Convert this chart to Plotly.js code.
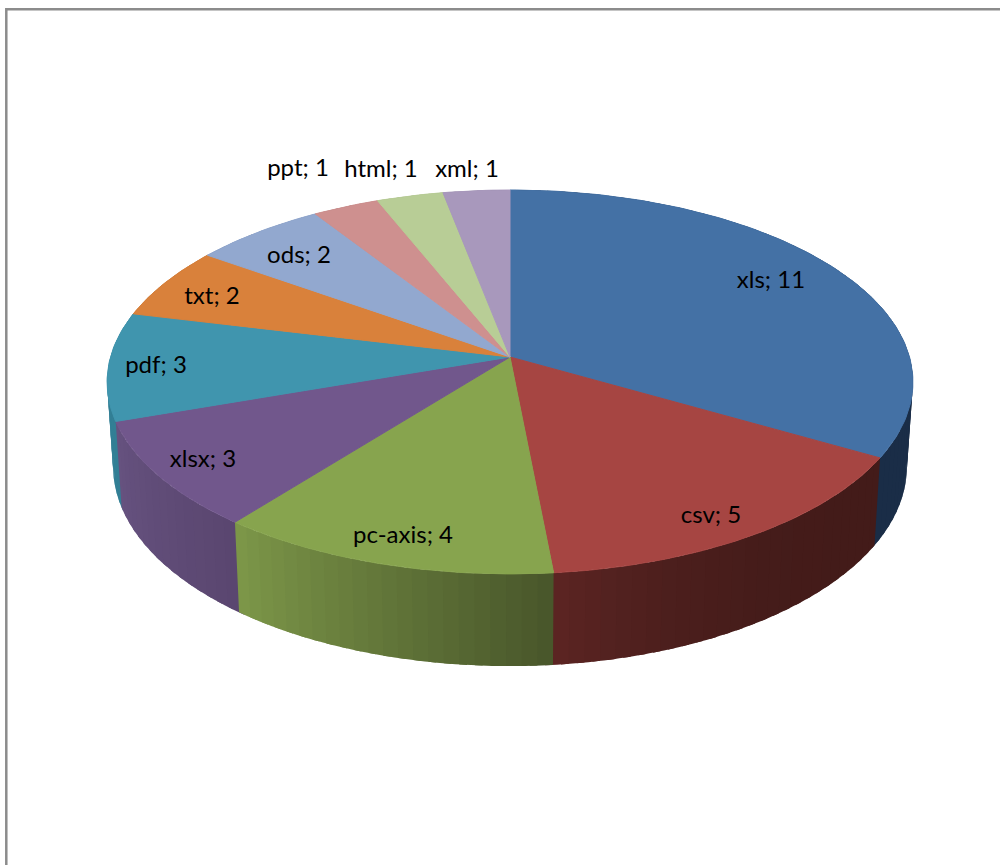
<!DOCTYPE html>
<html>
<head>
<meta charset="utf-8">
<script src="https://cdn.plot.ly/plotly-3.0.1.min.js"></script>
<style>html,body{margin:0;padding:0;background:#fff;overflow:hidden}#chart{width:1000px;height:865px}</style>
</head>
<body>
<div id="chart"></div>
<script>
// Data
const categories = ['xls','csv','pc-axis','xlsx','pdf','txt','ods','ppt','html','xml'];
const fileCounts = [11,5,4,3,3,2,2,1,1,1];

// Styles
const topColors = ['#4471a5','#a64542','#87a44e','#71578c','#4095ae','#d9813b','#92a8cf','#ce908f','#b8cd96','#a898bc'];
const sideStart = ['#1a2d47','#431b19','#48552a','#5a4670','#327f95','#a5622c','#6f80a0','#9c6d6c','#8b9b71','#7f738f'];
const sideEnd   = ['#1a2d47','#5c2523','#7d9849','#66527f','#327f95','#a5622c','#6f80a0','#9c6d6c','#8b9b71','#7f738f'];
const sideGamma = [1,3,1,1,1,1,1,1,1,1];
const labelX = [771,711,403,203,156,212,299,298,381,467];
const labelY = [282,517,537,461,367,298,257,170,171,171];

// Projection of the tilted disc
const apexX = 510, apexY = 357, scaleX = 399.5, scaleY = 188.7, persp = 0.13;
const bottomScaleX = 0.985, bottomScaleY = 1.04, depth = 83.5;
function rim(deg, bottom) {
  const t = deg * Math.PI / 180, u = Math.sin(t), v = Math.cos(t), w = 1 + persp * v;
  const sx = bottom ? bottomScaleX : 1, sy = bottom ? bottomScaleY : 1, d = bottom ? depth : 0;
  return [apexX + sx * scaleX * u / w, apexY + sy * scaleY * -v / w + d];
}
const hex = c => [1,3,5].map(i => parseInt(c.substr(i,2),16));
function mix(a,b,t){const A=hex(a),B=hex(b);return 'rgb('+A.map((x,i)=>Math.round(x+(B[i]-x)*t)).join(',')+')';}

const total = fileCounts.reduce((a,b)=>a+b,0);
const edges = [0];
fileCounts.forEach(n => edges.push(edges[edges.length-1] + n/total*360));

// Side wall stripes, painted back to front; each runs on under the next one so no seam shows
const stripes = [];
const step = 2, overlap = 1;
fileCounts.forEach((n,i) => {
  const a = edges[i], b = edges[i+1];
  const count = Math.max(1, Math.round((b-a)/step));
  for (let k=0;k<count;k++) {
    let d0 = a+(b-a)*k/count, d1 = a+(b-a)*(k+1)/count;
    const mid=(d0+d1)/2;
    if (d1 <= 180) d1 = Math.min(180, d1+overlap);
    else if (d0 >= 180) d0 = Math.max(180, d0-overlap);
    const xs=[], ys=[];
    for (let j=0;j<=4;j++){const q=rim(d0+(d1-d0)*j/4,false);xs.push(q[0]);ys.push(q[1]);}
    for (let j=4;j>=0;j--){const q=rim(d0+(d1-d0)*j/4,true);xs.push(q[0]);ys.push(q[1]);}
    xs.push(xs[0]);ys.push(ys[0]);
    const color = mix(sideStart[i],sideEnd[i],Math.pow((k+0.5)/count,sideGamma[i]));
    stripes.push({front: Math.abs(mid-180), trace:{
      x:xs, y:ys, mode:'none', fill:'toself', fillcolor:color,
      hoverinfo:'skip', showlegend:false, type:'scatter'
    }});
  }
});
stripes.sort((s,t)=>t.front-s.front);
const traces = stripes.map(s=>s.trace);

// Top faces
fileCounts.forEach((n,i) => {
  const xs=[apexX], ys=[apexY];
  const a=edges[i], b=edges[i+1], count=Math.max(8,Math.round(b-a));
  for(let k=0;k<=count;k++){const q=rim(a+(b-a)*k/count,false);xs.push(q[0]);ys.push(q[1]);}
  xs.push(apexX);ys.push(apexY);
  traces.push({x:xs,y:ys,mode:'lines',fill:'toself',fillcolor:topColors[i],
    line:{color:topColors[i],width:1},name:categories[i],
    text:categories[i]+'; '+fileCounts[i],hoverinfo:'text',showlegend:false,type:'scatter'});
});

// Labels
traces.push({x:labelX,y:labelY,mode:'text',type:'scatter',
  text:categories.map((c,i)=>c+'; '+fileCounts[i]),textposition:'middle center',
  textfont:{family:'Lato, "Open Sans", sans-serif',size:24,color:'#000'},
  hoverinfo:'skip',showlegend:false});

const layout = {
  width:1000,height:865,margin:{l:0,r:0,t:0,b:0},
  paper_bgcolor:'#fff',plot_bgcolor:'#fff',showlegend:false,
  xaxis:{range:[0,1000],visible:false,fixedrange:true},
  yaxis:{range:[865,0],visible:false,fixedrange:true},
  shapes:[{type:'rect',xref:'x',yref:'y',x0:6.3,y0:9.2,x1:1010,y1:880,
    line:{color:'#8c8c8c',width:2.5},fillcolor:'rgba(0,0,0,0)',layer:'below'}]
};
Plotly.newPlot('chart',traces,layout,{displayModeBar:false});
</script>
</body>
</html>
